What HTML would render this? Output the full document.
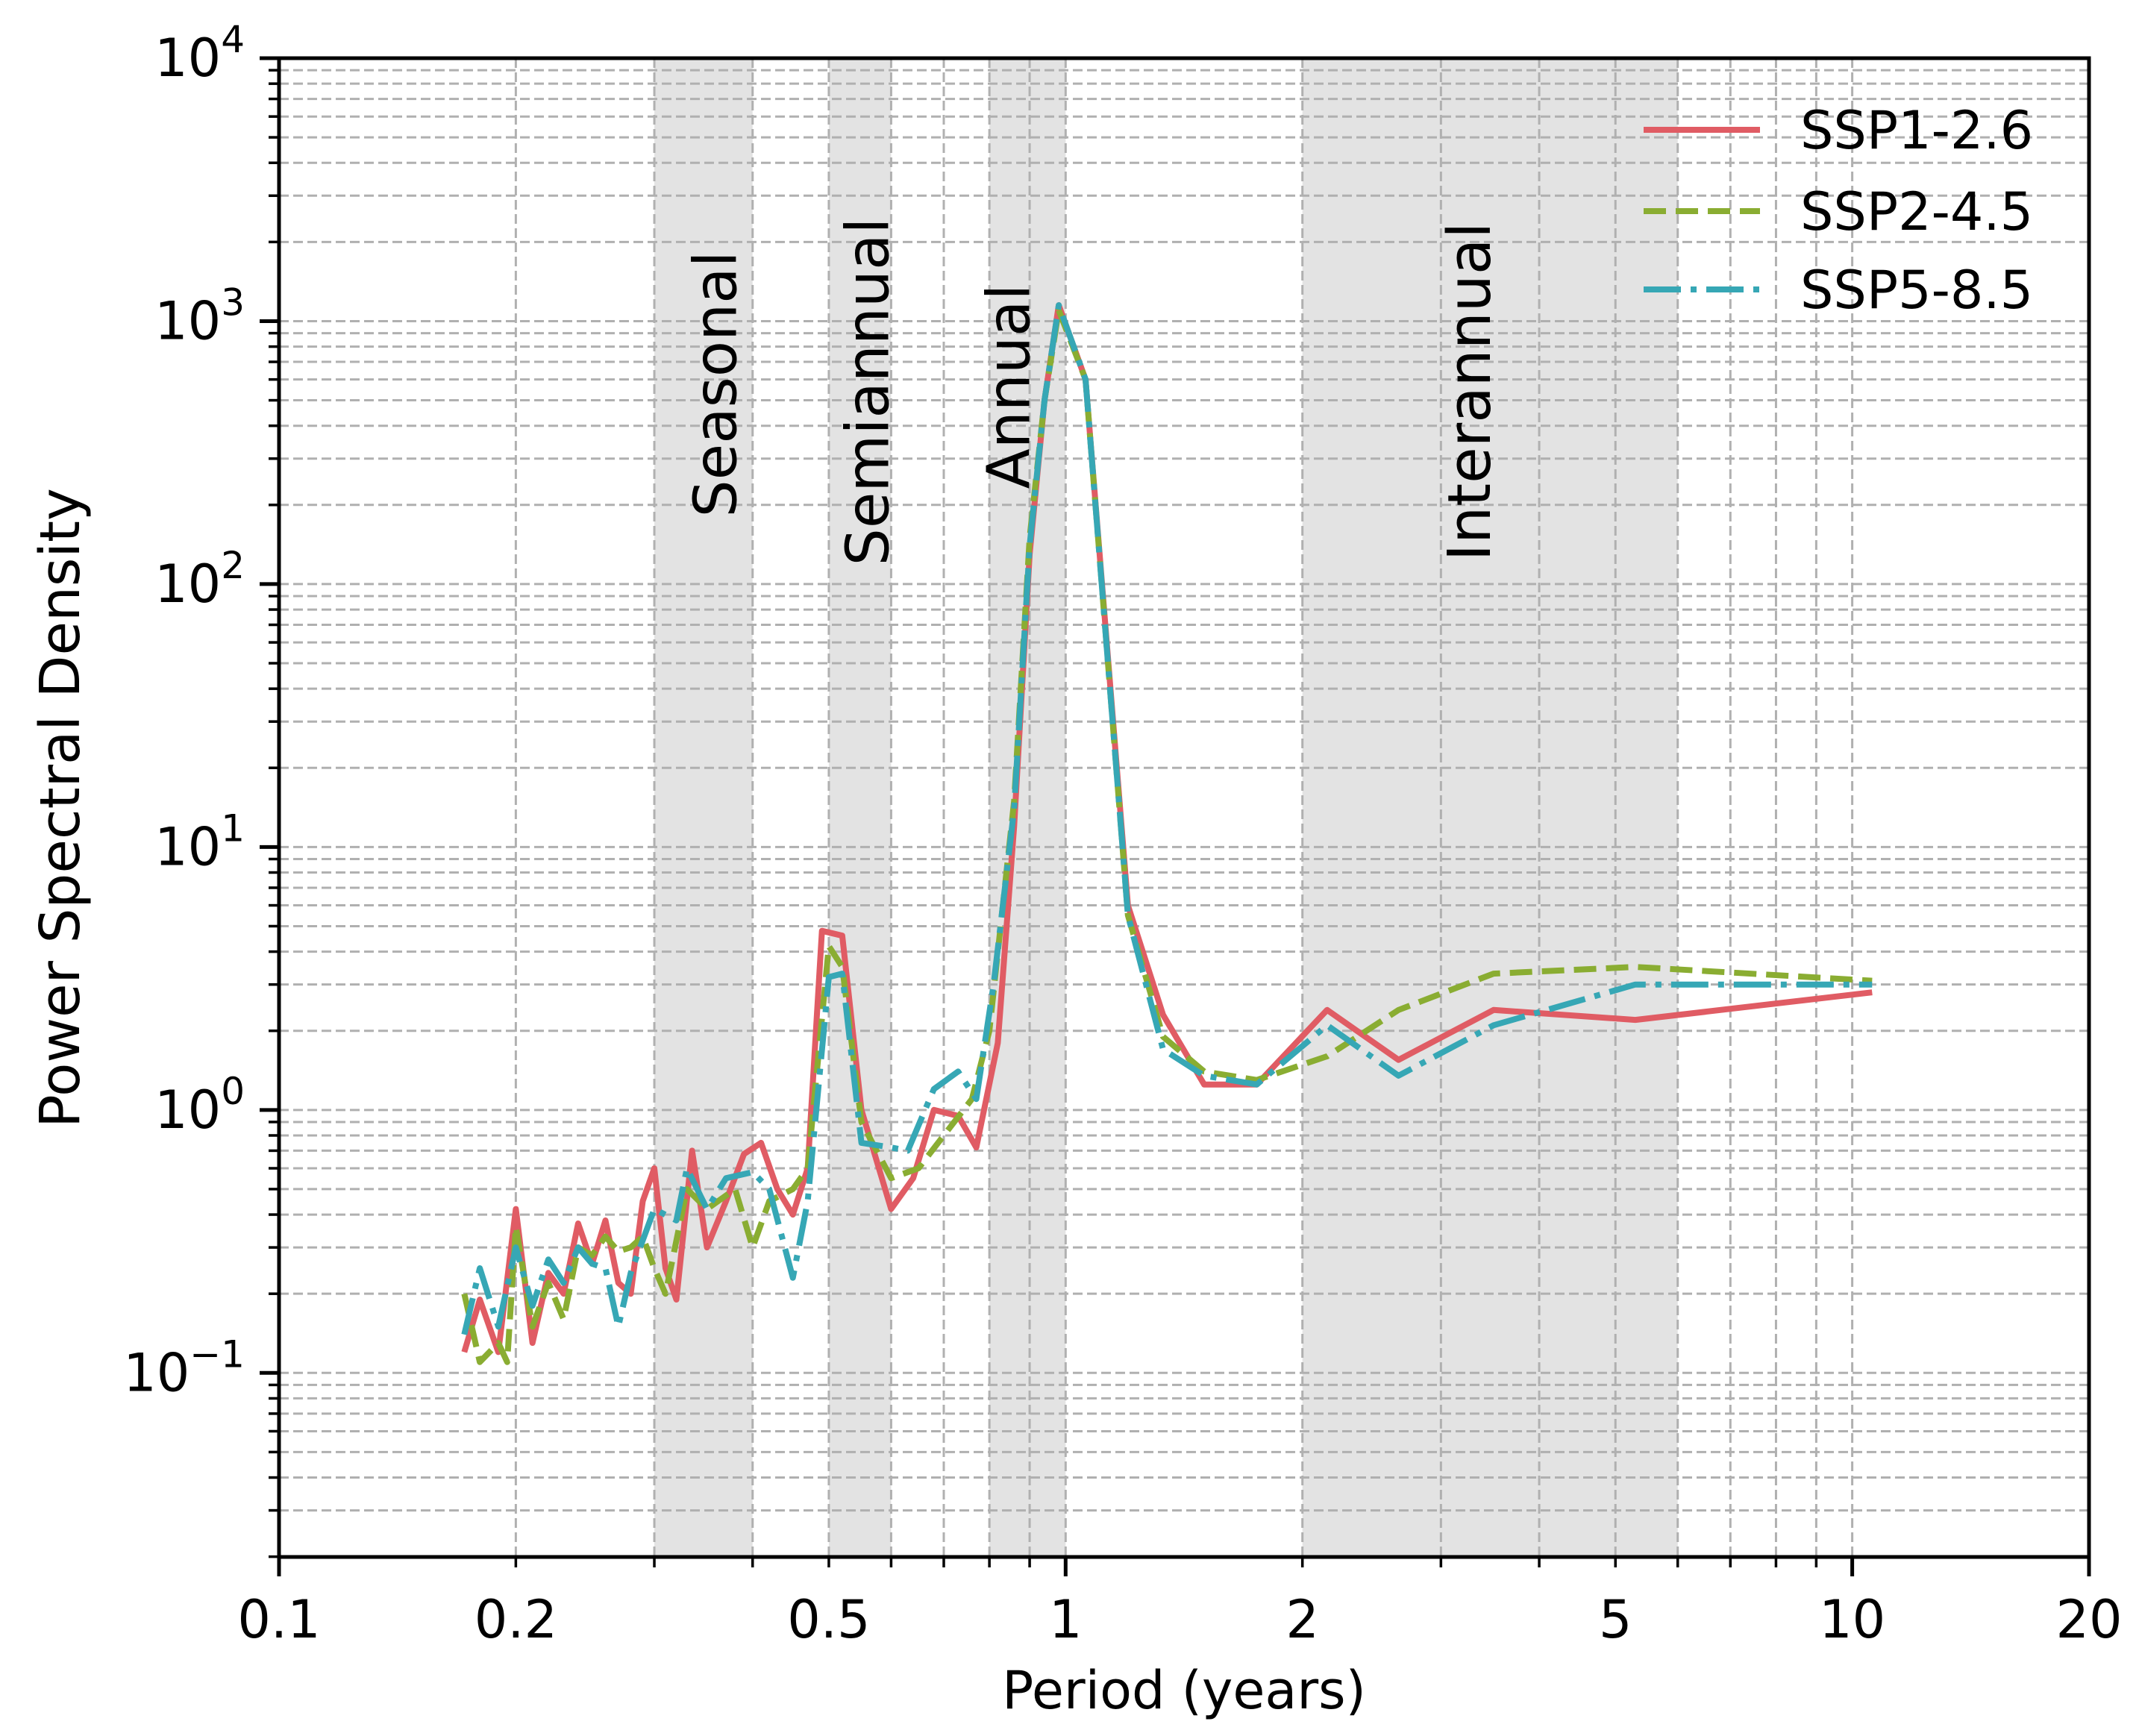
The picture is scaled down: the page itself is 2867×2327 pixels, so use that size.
<!DOCTYPE html>
<html><head><meta charset="utf-8"><style>
html,body{margin:0;padding:0;background:#fff;}
svg{display:block;font-family:"DejaVu Sans","Liberation Sans",sans-serif;}
</style></head><body>
<svg id="chart" width="2867" height="2327" viewBox="0 0 2867 2327" xmlns="http://www.w3.org/2000/svg">
<g id="bands"></g><g id="grid"></g><g id="bandlabels"></g><g id="series"></g><g id="axes"></g><g id="legend"></g>
</svg>
<script>
const periodsR=[0.172,0.18,0.19,0.2,0.21,0.22,0.23,0.24,0.25,0.26,0.27,0.28,0.29,0.30,0.31,0.32,0.335,0.35,0.37,0.39,0.41,0.43,0.45,0.47,0.49,0.52,0.55,0.6,0.64,0.68,0.73,0.77,0.82,0.86,0.9,0.94,0.98,1.06,1.2,1.33,1.5,1.75,2.15,2.65,3.5,5.3,10.6];
const ssp126=[0.12,0.19,0.12,0.42,0.13,0.24,0.2,0.37,0.26,0.38,0.22,0.2,0.45,0.6,0.25,0.19,0.7,0.3,0.45,0.68,0.75,0.5,0.4,0.6,4.8,4.6,1.0,0.42,0.55,1.0,0.95,0.72,1.8,12,130,500,1150,600,6,2.3,1.25,1.25,2.4,1.55,2.4,2.2,2.8];
const periodsG=[0.172,0.18,0.19,0.195,0.2,0.21,0.22,0.23,0.24,0.25,0.26,0.27,0.28,0.29,0.3,0.31,0.33,0.35,0.38,0.4,0.42,0.45,0.47,0.5,0.52,0.55,0.6,0.65,0.7,0.76,0.8,0.86,0.9,0.94,0.98,1.06,1.2,1.33,1.5,1.75,2.15,2.65,3.5,5.3,10.6];
const ssp245=[0.2,0.11,0.13,0.11,0.36,0.15,0.22,0.16,0.3,0.28,0.33,0.29,0.3,0.33,0.25,0.2,0.5,0.42,0.5,0.3,0.45,0.5,0.6,4.2,3.5,0.9,0.55,0.6,0.8,1.1,2,15,150,500,1100,600,5.5,1.9,1.4,1.3,1.6,2.4,3.3,3.5,3.1];
const periodsB=[0.172,0.18,0.19,0.2,0.21,0.22,0.23,0.24,0.25,0.26,0.27,0.28,0.3,0.32,0.33,0.35,0.37,0.4,0.42,0.45,0.47,0.5,0.52,0.55,0.6,0.63,0.68,0.73,0.77,0.81,0.86,0.9,0.94,0.98,1.06,1.2,1.33,1.5,1.75,2.15,2.65,3.5,5.3,10.6];
const ssp585=[0.14,0.25,0.15,0.3,0.18,0.27,0.22,0.3,0.26,0.25,0.15,0.24,0.42,0.38,0.6,0.42,0.55,0.58,0.5,0.23,0.45,3.2,3.3,0.75,0.72,0.7,1.2,1.4,1.1,3,14,140,500,1150,600,5.5,1.7,1.35,1.25,2.1,1.35,2.1,3,3];
const bandNames=["Seasonal","Semiannual","Annual","Interannual"];
const bandStart=[0.3,0.5,0.8,2];
const bandEnd=[0.4,0.6,1.0,6];
const xTickVals=[0.1,0.2,0.5,1,2,5,10,20];
const xTickLabels=["0.1","0.2","0.5","1","2","5","10","20"];
const yExps=[-1,0,1,2,3,4];

const L=374,R=2800,T=78,B=2087;
const XMIN=Math.log10(0.1),XMAX=Math.log10(20),YMIN=-1.7,YMAX=4;
const sx=v=>L+(Math.log10(v)-XMIN)/(XMAX-XMIN)*(R-L);
const sy=v=>B-(Math.log10(v)-YMIN)/(YMAX-YMIN)*(B-T);
const NS="http://www.w3.org/2000/svg";
function mk(tag,parent,attrs){const e=document.createElementNS(NS,tag);for(const k in attrs)e.setAttribute(k,attrs[k]);parent.appendChild(e);return e;}
const G=id=>document.getElementById(id);

bandNames.forEach((n,i)=>{
  const r=mk('rect',G('bands'),{x:sx(bandStart[i]),y:T,width:sx(bandEnd[i])-sx(bandStart[i]),height:B-T,fill:'#e3e3e3'});
  
  
});
const labelY=[515,525,518,525];
bandNames.forEach((n,i)=>{
  const cx=(sx(bandStart[i])+sx(bandEnd[i]))/2;
  const xx=i===0?cx+22:(i===1?sx(bandStart[i])+58:(i===2?sx(bandStart[i])+32:sx(3)+44));
  const t=mk('text',G('bandlabels'),{x:0,y:0,transform:`translate(${xx},${labelY[i]}) rotate(-90)`,'text-anchor':'middle','font-size':79,fill:'#000','dominant-baseline':'middle'});
  t.textContent=n;
  
  
});
const gridStyle={stroke:'#b0b0b0','stroke-width':3,'stroke-dasharray':'13,6'};
for(let e=-2;e<=4;e++)for(let m=1;m<10;m++){
  const v=m*Math.pow(10,e);const lv=Math.log10(v);if(lv<YMIN-1e-9||lv>YMAX+1e-9)continue;
  const y=sy(v);
  const g=mk('line',G('grid'),Object.assign({x1:L,x2:R,y1:y,y2:y},gridStyle));
  
  
  const tk=mk('line',G('axes'),{x1:L,x2:L-(m===1?26:14),y1:y,y2:y,stroke:'#000','stroke-width':m===1?5:3.5});
  
  
}
for(let e=-1;e<=1;e++)for(let m=1;m<10;m++){
  const v=m*Math.pow(10,e);if(v<0.1||v>20)continue;
  const x=sx(v);
  const g=mk('line',G('grid'),Object.assign({x1:x,x2:x,y1:T,y2:B},gridStyle));
  
  
  const tk=mk('line',G('axes'),{x1:x,x2:x,y1:B,y2:B+(m===1?26:14),stroke:'#000','stroke-width':m===1?5:3.5});
  
  
}
{const x=sx(20);const tk=mk('line',G('axes'),{x1:x,x2:x,y1:B,y2:B+26,stroke:'#000','stroke-width':5});
}
const dataSets=[[periodsR,ssp126,'#e05c64','none','SSP1-2.6'],[periodsG,ssp245,'#8aad32','30,13','SSP2-4.5'],[periodsB,ssp585,'#36a7b5','50,13,8,13','SSP5-8.5']];
dataSets.forEach(([px,py,c,d,n])=>{
  const pts=px.map((p,i)=>sx(p).toFixed(1)+','+sy(py[i]).toFixed(1)).join(' ');
  const pl=mk('polyline',G('series'),{points:pts,fill:'none',stroke:c,'stroke-width':8,'stroke-dasharray':d,'stroke-linejoin':'round'});
  
  
});
const fr=mk('rect',G('axes'),{x:L,y:T,width:R-L,height:B-T,fill:'none',stroke:'#000','stroke-width':5});


xTickVals.forEach((v,i)=>{
  const t=mk('text',G('axes'),{x:sx(v),y:2195,'text-anchor':'middle','font-size':70,fill:'#000'});
  t.textContent=xTickLabels[i];
  
  
});
yExps.forEach(e=>{
  const t=mk('text',G('axes'),{x:328,y:sy(Math.pow(10,e))+24,'text-anchor':'end','font-size':70,fill:'#000'});
  t.innerHTML='10<tspan dy="-32" font-size="50">'+(e<0?'\u2212'+(-e):e)+'</tspan>';
  
  
});
const xl=mk('text',G('axes'),{x:1587,y:2290,'text-anchor':'middle','font-size':70,fill:'#000'});
xl.textContent='Period (years)';


const yl=mk('text',G('axes'),{x:0,y:0,transform:'translate(106,1083) rotate(-90)','text-anchor':'middle','font-size':74,fill:'#000'});
yl.textContent='Power Spectral Density';


const legY=[174,283,388];
dataSets.forEach(([px,py,c,d,n],i)=>{
  const ln=mk('line',G('legend'),{x1:2203,x2:2359,y1:legY[i],y2:legY[i],stroke:c,'stroke-width':8,'stroke-dasharray':d});
  
  
  const t=mk('text',G('legend'),{x:2413,y:legY[i]+25,'font-size':70,fill:'#000'});
  t.textContent=n;
  
  
});
</script>
</body></html>
